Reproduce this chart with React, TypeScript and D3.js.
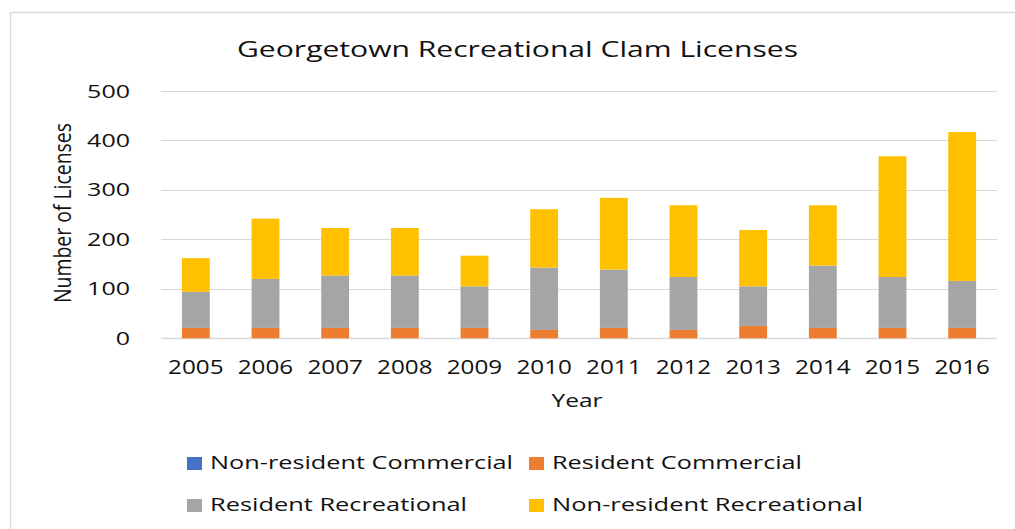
import React from "react";
import * as d3 from "d3";

const years = ["2005","2006","2007","2008","2009","2010","2011","2012","2013","2014","2015","2016"];
const nonResidentCommercial = [0,0,0,0,0,0,0,0,0,0,0,0];
const residentCommercial = [21,21,21,21,21,17,21,17,25,21,21,21];
const residentRecreational = [73,99,106,106,84,126,118,107,80,126,103,95];
const nonResidentRecreational = [68,122,96,96,62,118,145,145,114,122,244,301];
const yTicks = [0,100,200,300,400,500];

const seriesNames = ["Non-resident Commercial","Resident Commercial","Resident Recreational","Non-resident Recreational"];
const seriesColors = ["#4472C4","#ED7D31","#A5A5A5","#FFC000"];

const W = 1015, H = 529;
const FONT = "'Open Sans', 'DejaVu Sans', sans-serif";
const TEXT = "#111";

export default function App() {
  const rows = years.map((y, i) => ({
    year: y,
    [seriesNames[0]]: nonResidentCommercial[i],
    [seriesNames[1]]: residentCommercial[i],
    [seriesNames[2]]: residentRecreational[i],
    [seriesNames[3]]: nonResidentRecreational[i],
  }));
  const stacked = d3.stack<any>().keys(seriesNames)(rows);

  const x = d3.scaleBand<string>().domain(years).range([161, 997]).paddingInner(0.6).paddingOuter(0.3);
  const y = d3.scaleLinear().domain([0, 500]).range([338.3, 91]);

  const legendItems = [
    { name: seriesNames[0], color: seriesColors[0], sx: 187, tx: 210, y: 469, len: 303 },
    { name: seriesNames[1], color: seriesColors[1], sx: 529, tx: 552, y: 469, len: 250 },
    { name: seriesNames[2], color: seriesColors[2], sx: 187, tx: 210, y: 511, len: 257 },
    { name: seriesNames[3], color: seriesColors[3], sx: 529, tx: 552, y: 511, len: 311 },
  ];

  return (
    <svg width={W} height={H} style={{ position: "absolute", left: 0, top: 0, background: "#fff" }} fontFamily={FONT}>
      <rect x={0} y={0} width={W} height={H} fill="#fff" />
      <rect x={10.5} y={12.5} width={W + 20} height={H + 20} fill="none" stroke="#d9d9d9" strokeWidth={1.5} />
      <text x={517.5} y={56.5} textAnchor="middle" fontSize={21} fill={TEXT} textLength={561} lengthAdjust="spacingAndGlyphs">
        Georgetown Recreational Clam Licenses
      </text>
      {yTicks.map((t) => (
        <g key={t}>
          <line x1={161} x2={997} y1={Math.round(y(t)) + 0.5} y2={Math.round(y(t)) + 0.5} stroke="#d9d9d9" strokeWidth={t === 0 ? 1.5 : 1.2} />
          <text x={130} y={y(t) + 6.5} textAnchor="end" fontSize={19} fill={TEXT}
            textLength={String(t).length * 14.3} lengthAdjust="spacingAndGlyphs">{t}</text>
        </g>
      ))}
      {stacked.map((s, si) => (
        <g key={s.key} fill={seriesColors[si]}>
          {s.map((d, i) => {
            const h = y(d[0]) - y(d[1]);
            return h > 0 ? (
              <rect key={years[i]} x={x(years[i])} y={y(d[1])} width={x.bandwidth()} height={h} />
            ) : null;
          })}
        </g>
      ))}
      {years.map((yr) => (
        <text key={yr} x={(x(yr) as number) + x.bandwidth() / 2} y={374} textAnchor="middle" fontSize={20} fill={TEXT}
          textLength={55.5} lengthAdjust="spacingAndGlyphs">{yr}</text>
      ))}
      <text x={577} y={407} textAnchor="middle" fontSize={19} fill={TEXT} textLength={51} lengthAdjust="spacingAndGlyphs">Year</text>
      <text transform="translate(71,213) rotate(-90)" textAnchor="middle" fontSize={23} fill={TEXT}
        textLength={180} lengthAdjust="spacingAndGlyphs">Number of Licenses</text>
      {legendItems.map((it) => (
        <g key={it.name}>
          <rect x={it.sx} y={it.y - 12} width={15} height={13} fill={it.color} />
          <text x={it.tx} y={it.y} fontSize={19} fill={TEXT} textLength={it.len} lengthAdjust="spacingAndGlyphs">{it.name}</text>
        </g>
      ))}
    </svg>
  );
}
